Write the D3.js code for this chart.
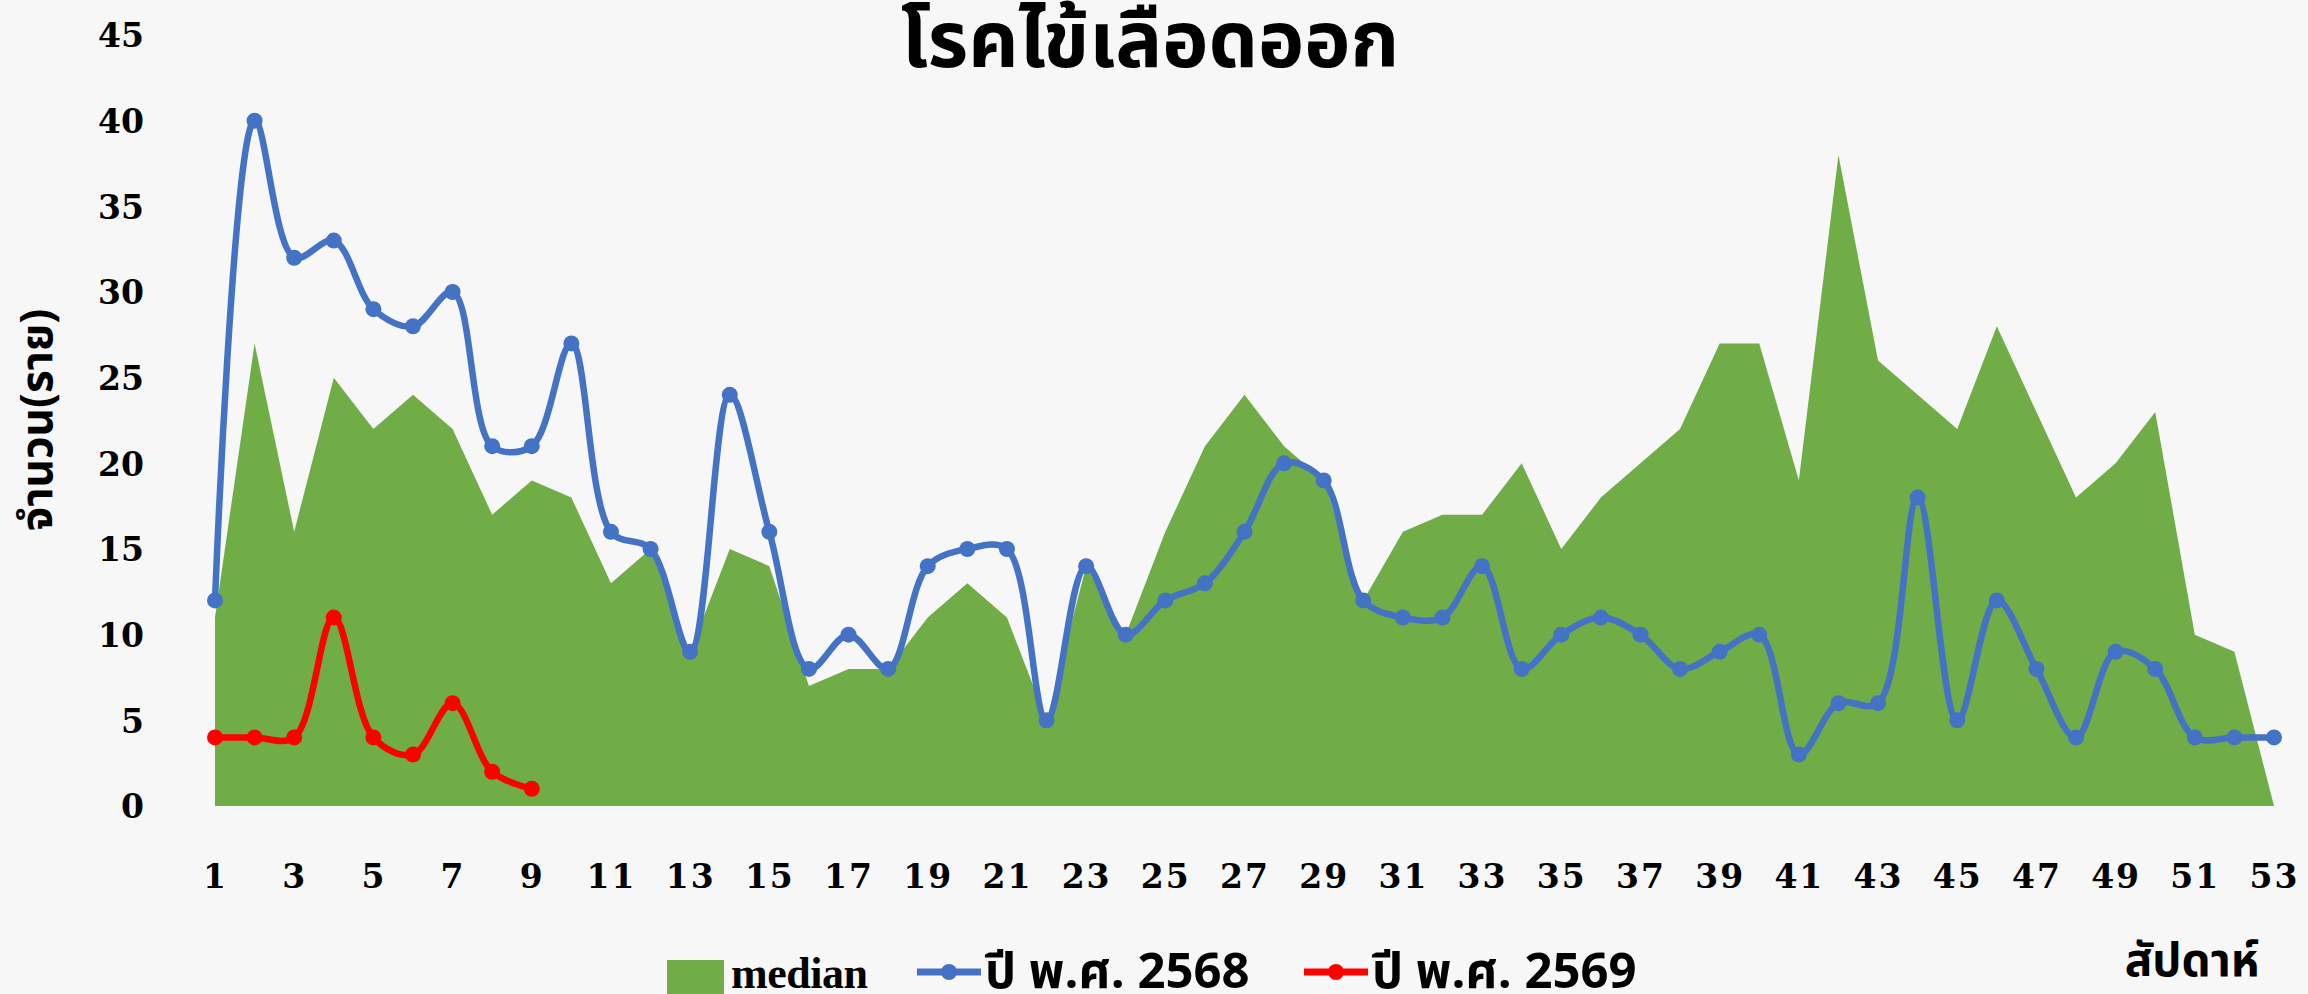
<!DOCTYPE html>
<html>
<head>
<meta charset="utf-8">
<script src="https://cdn.jsdelivr.net/npm/d3@7"></script>
<style>
  body { margin: 0; background: #f7f7f7; }
  #plot { width: 2308px; height: 994px; }
  .tick-lbl { font-family: "DejaVu Serif", serif; font-weight: bold; font-size: 33px; fill: #000; }
  .thai { font-family: "Noto Sans Thai", "Noto Sans", "DejaVu Sans", sans-serif; font-weight: bold; fill: #000; }
</style>
</head>
<body>
<div id="plot"></div>
<script>
// chart data
var weeks = d3.range(1, 54);
var median = [11, 27, 16, 25, 22, 24, 22, 17, 19, 18, 13, 15, 9, 15, 14, 7, 8, 8, 11, 13,
              11, 5, 14, 10, 16, 21, 24, 21, 19, 12, 16, 17, 17, 20, 15, 18, 20, 22, 27, 27,
              19, 38, 26, 24, 22, 28, 23, 18, 20, 23, 10, 9, 0];
var y2568 = [12, 40, 32, 33, 29, 28, 30, 21, 21, 27, 16, 15, 9, 24, 16, 8, 10, 8, 14, 15,
             15, 5, 14, 10, 12, 13, 16, 20, 19, 12, 11, 11, 14, 8, 10, 11, 10, 8, 9, 10,
             3, 6, 6, 18, 5, 12, 8, 4, 9, 8, 4, 4, 4];
var y2569 = [4, 4, 4, 11, 4, 3, 6, 2, 1];
var yTicks = [0, 5, 10, 15, 20, 25, 30, 35, 40, 45];
var xTicks = d3.range(1, 54, 2);
var seriesNames = ["median", "ปี พ.ศ. 2568", "ปี พ.ศ. 2569"];

var w = 2308, h = 994;
var green = "#70ad47", blue = "#4472c4", red = "#ff0000";

var svg = d3.select("#plot").append("svg")
    .attr("width", w)
    .attr("height", h);

svg.append("rect").attr("width", w).attr("height", h).attr("fill", "#f7f7f7");

var xScale = d3.scaleLinear().domain([1, 53]).range([215, 2274]);
var yScale = d3.scaleLinear().domain([0, 45]).range([806, 35]);

// median area
var area = d3.area()
    .x(function(d, i) { return xScale(weeks[i]); })
    .y0(yScale(0))
    .y1(function(d) { return yScale(d); });

svg.append("path")
    .datum(median)
    .attr("d", area)
    .attr("fill", green);

// smoothed lines with markers
var line = d3.line()
    .x(function(d, i) { return xScale(weeks[i]); })
    .y(function(d) { return yScale(d); })
    .curve(d3.curveCatmullRom.alpha(0.5));

function drawSeries(data, colour) {
  svg.append("path")
      .datum(data)
      .attr("d", line)
      .attr("fill", "none")
      .attr("stroke", colour)
      .attr("stroke-width", 6.5)
      .attr("stroke-linejoin", "round");
  svg.append("g").selectAll("circle")
      .data(data)
      .enter().append("circle")
      .attr("cx", function(d, i) { return xScale(weeks[i]); })
      .attr("cy", function(d) { return yScale(d); })
      .attr("r", 8)
      .attr("fill", colour);
}
drawSeries(y2568, blue);
drawSeries(y2569, red);

// axes (labels only, no lines)
var yAxis = d3.axisLeft(yScale).tickValues(yTicks).tickSize(0).tickPadding(0);
var gy = svg.append("g").attr("transform", "translate(144,0)").call(yAxis);
gy.select(".domain").remove();
gy.selectAll("text").attr("class", "tick-lbl").attr("font-size", null).attr("font-family", null)
    .attr("dy", "0.36em");

var xAxis = d3.axisBottom(xScale).tickValues(xTicks).tickSize(0).tickPadding(0);
var gx = svg.append("g").attr("transform", "translate(0,864)").call(xAxis);
gx.select(".domain").remove();
gx.selectAll("text").attr("class", "tick-lbl").attr("font-size", null).attr("font-family", null)
    .attr("dy", "0.36em").attr("y", 12).attr("letter-spacing", 2);

// title
svg.append("text")
    .attr("class", "thai")
    .attr("x", 1150)
    .attr("y", 67)
    .attr("text-anchor", "middle")
    .attr("font-size", 78)
    .attr("font-weight", 900)
    .text("โรคไข้เลือดออก");

// axis titles
svg.append("text")
    .attr("class", "thai")
    .attr("transform", "translate(52,420) rotate(-90)")
    .attr("text-anchor", "middle")
    .attr("font-size", 44)
    .text("จำนวน(ราย)");

svg.append("text")
    .attr("class", "thai")
    .attr("x", 2192)
    .attr("y", 976)
    .attr("text-anchor", "middle")
    .attr("font-size", 46)
    .text("สัปดาห์");

// legend
var lg = svg.append("g");
lg.append("rect").attr("x", 667).attr("y", 960).attr("width", 57).attr("height", 40).attr("fill", green);
lg.append("text").attr("x", 731).attr("y", 988)
    .attr("font-family", "Liberation Serif, serif").attr("font-weight", "bold")
    .attr("font-size", 44).attr("textLength", 137).text(seriesNames[0]);

[[blue, 917, seriesNames[1]], [red, 1304, seriesNames[2]]].forEach(function(s) {
  lg.append("line").attr("x1", s[1]).attr("x2", s[1] + 64).attr("y1", 972).attr("y2", 972)
      .attr("stroke", s[0]).attr("stroke-width", 7);
  lg.append("circle").attr("cx", s[1] + 32).attr("cy", 972).attr("r", 8).attr("fill", s[0]);
  lg.append("text").attr("class", "thai").attr("x", s[1] + 68).attr("y", 988)
      .attr("font-size", 49).attr("font-weight", "normal").text(s[2]);
});
</script>
</body>
</html>
